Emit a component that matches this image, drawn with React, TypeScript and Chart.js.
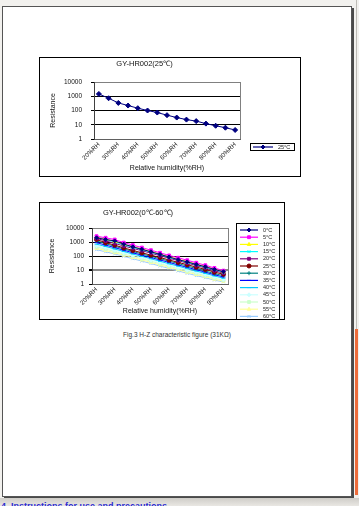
import React, { useEffect, useRef } from "react";
import { Chart, registerables } from "chart.js";
import { drawPoint } from "chart.js/helpers";

Chart.register(...registerables);
Chart.defaults.font.family = "'Liberation Sans', Arial, sans-serif";

const humidityLabels = ["20%RH", "25%RH", "30%RH", "35%RH", "40%RH", "45%RH", "50%RH", "55%RH", "60%RH", "65%RH", "70%RH", "75%RH", "80%RH", "85%RH", "90%RH"];
const yTickValues = [1, 10, 100, 1000, 10000];

// Fig. top: 25 °C
const r25single = [1450, 725, 340, 223, 145, 100, 72, 47, 32, 23, 18, 12, 8.5, 6.2, 4.3];

// Fig. bottom: 0 °C – 60 °C
const tempNames = ["0°C", "5°C", "10°C", "15°C", "20°C", "25°C", "30°C", "35°C", "40°C", "45°C", "50°C", "55°C", "60°C"];
const t0 = [2000, 1500, 1200, 700, 450, 300, 200, 130, 85, 55, 38, 25, 17, 11, 7.5];
const t5 = [2600, 2000, 1500, 900, 600, 400, 260, 170, 110, 75, 50, 33, 22, 14, 9];
const t10 = [2300, 1600, 1100, 700, 470, 320, 210, 140, 90, 60, 40, 27, 18, 12, 7.5];
const t15 = [2400, 1500, 1000, 620, 420, 280, 190, 125, 80, 55, 36, 24, 16, 10.5, 7];
const t20 = [1800, 1200, 800, 520, 350, 240, 160, 105, 70, 47, 31, 21, 14, 9, 6];
const t25 = [1500, 900, 600, 380, 250, 170, 115, 78, 52, 35, 24, 16, 11, 7, 5];
const t30 = [1200, 750, 500, 320, 210, 140, 95, 64, 43, 29, 19, 13, 8.5, 5.5, 4];
const t35 = [900, 600, 400, 260, 170, 115, 78, 52, 35, 23, 15.5, 10.5, 7, 4.6, 3.2];
const t40 = [700, 480, 320, 210, 140, 95, 64, 42, 28, 19, 12.5, 8.5, 5.7, 3.8, 2.6];
const t45 = [550, 380, 260, 170, 115, 78, 52, 34, 23, 15, 10, 7, 4.7, 3.1, 2.2];
const t50 = [450, 310, 210, 140, 95, 64, 43, 28, 19, 12.5, 8.5, 5.8, 3.9, 2.6, 1.9];
const t55 = [350, 250, 170, 115, 78, 52, 35, 23, 15.5, 10.5, 7, 4.8, 3.3, 2.2, 1.6];
const t60 = [280, 200, 140, 95, 64, 43, 29, 19, 13, 8.5, 5.8, 4, 2.8, 1.9, 1.4];
const tempSeries = [t0, t5, t10, t15, t20, t25, t30, t35, t40, t45, t50, t55, t60];
const tempColors = ["#000080", "#ff00ff", "#ffff00", "#00ffff", "#800080", "#800000", "#008080", "#0000ff", "#00ccff", "#ccffff", "#ccffcc", "#ffff99", "#99ccff"];
const tempMarkers = ["rectRot", "rect", "triangle", "crossRot", "rect", "circle", "cross", "line", "line", "rectRot", "rect", "triangle", "crossRot"];

const framePlugin = {
  id: "frameBox",
  beforeDraw(chart: any) {
    const { ctx, chartArea: a, width, height } = chart;
    ctx.save();
    ctx.fillStyle = "#fff";
    ctx.fillRect(0, 0, width, height);
    ctx.strokeStyle = "#808080";
    ctx.lineWidth = 1;
    ctx.strokeRect(Math.round(a.left) + 0.5, Math.round(a.top) + 0.5, Math.round(a.right - a.left), Math.round(a.bottom - a.top));
    ctx.restore();
  },
  afterDraw(chart: any) {
    const { ctx, width, height } = chart;
    ctx.save();
    ctx.strokeStyle = "#000";
    ctx.lineWidth = 1;
    ctx.strokeRect(0.5, 0.5, width - 1, height - 1);
    ctx.restore();
  },
};

const legendPlugin = {
  id: "miniLegend",
  afterDraw(chart: any, _args: any, o: any) {
    const { ctx } = chart;
    ctx.save();
    ctx.fillStyle = "#fff";
    ctx.fillRect(o.box[0], o.box[1], o.box[2], o.box[3]);
    ctx.strokeStyle = "#000";
    ctx.lineWidth = 1;
    ctx.strokeRect(o.box[0] + 0.5, o.box[1] + 0.5, o.box[2] - 1, o.box[3] - 1);
    chart.data.datasets.forEach((ds: any, i: number) => {
      const y = o.firstY + i * o.step;
      ctx.strokeStyle = ds.borderColor;
      ctx.lineWidth = 1.2;
      ctx.beginPath();
      ctx.moveTo(o.lineX[0], y);
      ctx.lineTo(o.lineX[1], y);
      ctx.stroke();
      ctx.fillStyle = ds.backgroundColor;
      ctx.strokeStyle = ds.borderColor;
      ctx.lineWidth = 1;
      drawPoint(ctx, { pointStyle: ds.pointStyle, radius: 2, rotation: 0, borderWidth: 1 }, (o.lineX[0] + o.lineX[1]) / 2, y);
      ctx.fillStyle = "#222";
      ctx.font = `${o.fontSize}px 'Liberation Sans', Arial, sans-serif`;
      ctx.textBaseline = "middle";
      ctx.textAlign = "left";
      ctx.fillText(ds.label, o.textX, y);
    });
    ctx.restore();
  },
};

function buildOptions(cfg: any) {
  return {
    animation: false,
    responsive: false,
    devicePixelRatio: 1,
    layout: { padding: cfg.padding },
    plugins: {
      legend: { display: false },
      tooltip: { enabled: false },
      title: {
        display: true,
        text: cfg.title,
        color: "#111",
        font: { size: 7.5, weight: "normal" },
        padding: cfg.titlePadding,
      },
      miniLegend: cfg.legend,
    },
    scales: {
      x: {
        offset: true,
        grid: { display: false, drawTicks: false },
        border: { color: "#606060" },
        ticks: {
          autoSkip: false,
          minRotation: 45,
          maxRotation: 45,
          padding: 2,
          color: "#111",
          font: { size: 6.3 },
          callback: (_v: any, i: number) => (i % 2 === 0 ? humidityLabels[i] : ""),
        },
        title: { display: true, text: "Relative humidity(%RH)", color: "#111", font: { size: 7 }, padding: 0 },
        afterFit: (s: any) => {
          s.height = cfg.xHeight;
        },
      },
      y: {
        type: "logarithmic",
        min: 1,
        max: 10000,
        afterBuildTicks: (s: any) => {
          s.ticks = yTickValues.map((v) => ({ value: v }));
        },
        grid: {
          color: cfg.gridColor,
          lineWidth: cfg.gridWidth,
          tickColor: "#000",
          tickLength: 3,
          drawTicks: true,
        },
        border: { color: "#404040" },
        ticks: { padding: cfg.yTickPad, color: "#111", font: { size: 6.5 }, callback: (v: any) => String(v) },
        title: { display: true, text: "Resistance", color: "#111", font: { size: 7 }, padding: 0 },
        afterFit: (s: any) => {
          s.width = cfg.yWidth;
        },
      },
    },
  };
}

function ChartCanvas({ config, style, width, height }: any) {
  const ref = useRef<HTMLCanvasElement | null>(null);
  useEffect(() => {
    if (!ref.current) return;
    const chart = new Chart(ref.current, config());
    return () => chart.destroy();
  }, []);
  return <canvas ref={ref} width={width} height={height} style={{ position: "absolute", width, height, ...style }} />;
}

const chart1Config = () => ({
  type: "line",
  data: {
    labels: humidityLabels,
    datasets: [
      {
        label: "25°C",
        data: r25single,
        borderColor: "#000080",
        backgroundColor: "#000080",
        borderWidth: 1,
        pointStyle: "rectRot",
        pointRadius: 2.5,
        pointBorderWidth: 1,
      },
    ],
  },
  options: buildOptions({
    padding: { left: 10, right: 61, top: 0, bottom: 5 },
    title: "GY-HR002(25℃)",
    titlePadding: { top: 2.5, bottom: 13.5 },
    xHeight: 33,
    yWidth: 45,
    yTickPad: 9,
    gridColor: (c: any) => (c.tick && c.tick.value === 10000 ? "#808080" : "#000"),
    gridWidth: 1,
    legend: { box: [211, 86, 45, 8], firstY: 90, step: 7, lineX: [214, 234], textX: 239, fontSize: 5.5 },
  }),
  plugins: [framePlugin, legendPlugin],
});

const chart2Config = () => ({
  type: "line",
  data: {
    labels: humidityLabels,
    datasets: tempSeries.map((d, i) => ({
      label: tempNames[i],
      data: d,
      borderColor: tempColors[i],
      backgroundColor: tempColors[i],
      borderWidth: 1,
      pointStyle: tempMarkers[i],
      pointRadius: 2,
      pointBorderWidth: 1,
    })),
  },
  options: buildOptions({
    padding: { left: 9, right: 57, top: 0, bottom: 5 },
    title: "GY-HR002(0℃-60℃)",
    titlePadding: { top: 6, bottom: 11 },
    xHeight: 31,
    yWidth: 44,
    yTickPad: 5,
    gridColor: (c: any) => (c.tick && c.tick.value === 10 ? "#8a8a8a" : c.tick && c.tick.value === 10000 ? "#808080" : "#000"),
    gridWidth: (c: any) => (c.tick && c.tick.value === 10 ? 2 : 1),
    legend: { box: [197, 21, 44, 97], firstY: 28, step: 7.2, lineX: [201, 219], textX: 224, fontSize: 5.5 },
  }),
  plugins: [framePlugin, legendPlugin],
});

export default function App() {
  return (
    <div style={{ position: "fixed", left: 0, top: 0, width: 359, height: 506, background: "#f2f1ee", overflow: "hidden" }}>
      <div style={{ position: "absolute", left: 356, top: 0, width: 1, height: 329, background: "#bdbbb6" }} />
      <div style={{ position: "absolute", left: 355, top: 329, width: 3, height: 166, background: "#ee6d3c" }} />
      <div
        style={{
          position: "absolute",
          left: 2,
          top: 6,
          width: 348,
          height: 489,
          background: "#fff",
          border: "1px solid #555",
          boxShadow: "2px 2px 0 #4a4a4a",
        }}
      />
      <ChartCanvas config={chart1Config} width={262} height={120} style={{ left: 39, top: 57 }} />
      <ChartCanvas config={chart2Config} width={246} height={118} style={{ left: 39, top: 202 }} />
      <div
        style={{
          position: "absolute",
          left: 0,
          width: 354,
          top: 330,
          textAlign: "center",
          fontFamily: "'Liberation Sans', Arial, sans-serif",
          fontSize: 6.5,
          color: "#333",
          lineHeight: "10px",
        }}
      >
        Fig.3 H-Z characteristic figure (31KΩ)
      </div>
      <div style={{ position: "absolute", left: 0, top: 498, width: 359, height: 8, background: "linear-gradient(#cfcdc8, #e9e7e3)" }} />
      <div
        style={{
          position: "absolute",
          left: 1,
          top: 501,
          whiteSpace: "nowrap",
          fontFamily: "'Liberation Sans', Arial, sans-serif",
          fontSize: 9,
          fontWeight: "bold",
          color: "#2a2ad0",
          lineHeight: "10px",
        }}
      >
        4. Instructions for use and precautions
      </div>
    </div>
  );
}
